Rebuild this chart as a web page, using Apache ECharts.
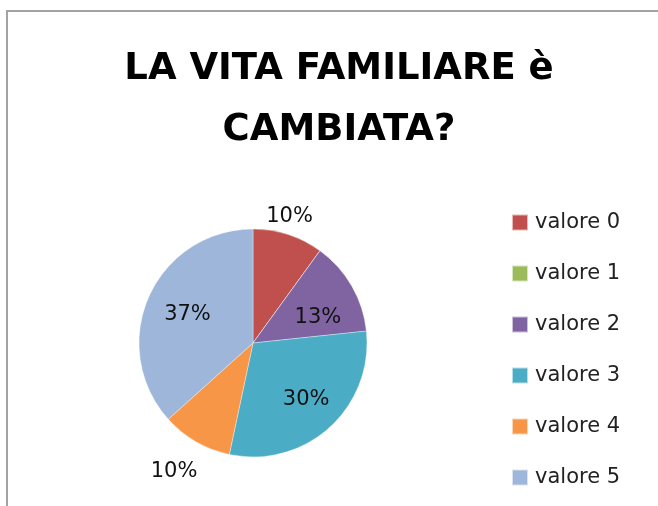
<!DOCTYPE html>
<html>
<head>
<meta charset="utf-8">
<script src="https://cdn.jsdelivr.net/npm/echarts@6/dist/echarts.min.js"></script>
<style>html,body{margin:0;padding:0;background:#fff}#c{width:658px;height:506px}</style>
</head>
<body>
<div id="c"></div>
<script>
const titleText = 'LA VITA FAMILIARE è\nCAMBIATA?';
const categories = ['valore 0', 'valore 1', 'valore 2', 'valore 3', 'valore 4', 'valore 5'];
const values = [3, 0, 4, 9, 3, 11];
const colors = ['#C0504D', '#9BBB59', '#8064A2', '#4BACC6', '#F79646', '#9DB6DA'];
const insideLabelItems = ['valore 2', 'valore 3', 'valore 5'];
const outsideLabelItems = ['valore 0', 'valore 4'];
// small label nudges (style only)
const labelNudge = { 'valore 0': [-8, 10], 'valore 2': [0, 12], 'valore 3': [3, 1], 'valore 4': [-7, 4], 'valore 5': [3, 2] };

const center = [253, 343];
const R = 114;
const labelFont = { fontFamily: 'DejaVu Sans', fontSize: 21, color: '#111' };

function fmt(p) { return Math.round(p.percent) + '%'; }

function labelPie(radius, shown) {
  return {
    type: 'pie', center: center, radius: [0, radius], silent: true,
    startAngle: 90, clockwise: true, avoidLabelOverlap: false,
    emphasis: { disabled: true },
    itemStyle: { color: 'rgba(0,0,0,0)', borderWidth: 0 },
    labelLine: { show: false },
    data: categories.map((c, i) => ({
      name: c, value: values[i],
      label: { show: shown.indexOf(c) >= 0, position: 'inside', formatter: fmt,
               offset: labelNudge[c] || [0, 0], ...labelFont }
    }))
  };
}

const chart = echarts.init(document.getElementById('c'), null, { renderer: 'canvas' });
chart.setOption({
  animation: false,
  backgroundColor: '#fff',
  color: colors,
  graphic: [{
    type: 'rect', shape: { x: 7, y: 11, width: 700, height: 600 },
    style: { fill: 'none', stroke: '#a3a3a3', lineWidth: 2 }, silent: true, z: 0
  }],
  title: {
    text: titleText, left: 334, top: 34, textAlign: 'center',
    textStyle: { fontFamily: 'DejaVu Sans', fontWeight: 'bold', fontSize: 37, lineHeight: 61, color: '#000' }
  },
  legend: {
    orient: 'vertical', left: 511, top: 212, padding: 0,
    itemWidth: 16, itemHeight: 16, itemGap: 30, icon: 'rect',
    data: categories,
    textStyle: { fontFamily: 'DejaVu Sans', fontSize: 21, lineHeight: 21, color: '#222', padding: [0, 0, 0, 2] }
  },
  series: [
    {
      type: 'pie', center: center, radius: [0, R], startAngle: 90, clockwise: true,
      label: { show: false }, labelLine: { show: false },
      emphasis: { disabled: true },
      itemStyle: { borderColor: 'rgba(255,255,255,0.6)', borderWidth: 0.6 },
      data: categories.map((c, i) => ({ name: c, value: values[i] }))
    },
    labelPie(144, insideLabelItems),
    labelPie(282, outsideLabelItems)
  ]
});
</script>
</body>
</html>
